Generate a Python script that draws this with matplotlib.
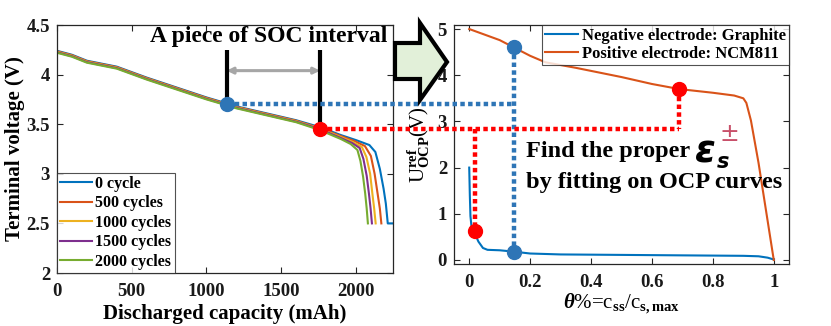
import matplotlib
matplotlib.use("Agg")
import matplotlib.pyplot as plt
import numpy as np
from matplotlib.lines import Line2D
from matplotlib.patches import Polygon

plt.rcParams['font.family'] = ['Liberation Serif', 'DejaVu Serif']
plt.rcParams['font.weight'] = 'bold'
plt.rcParams['mathtext.fontset'] = 'custom'
plt.rcParams['mathtext.rm'] = 'Liberation Serif:bold'
plt.rcParams['mathtext.bf'] = 'Liberation Serif:bold'
plt.rcParams['mathtext.it'] = 'Liberation Serif:italic:bold'

# ---------------- data ----------------
cycle_labels = ["0 cycle", "500 cycles", "1000 cycles", "1500 cycles", "2000 cycles"]
cycle_colors = ["#0072BD", "#D95319", "#EDB120", "#7E2F8E", "#77AC30"]

cap_0 = [0, 100, 200, 400, 600, 800, 1000, 1135, 1200, 1400, 1600, 1760, 1900, 2000, 2090, 2130, 2160, 2185, 2200, 2213, 2245]
v_0 = [4.24, 4.20, 4.14, 4.08, 3.97, 3.87, 3.77, 3.71, 3.68, 3.61, 3.54, 3.47, 3.39, 3.34, 3.29, 3.22, 3.05, 2.85, 2.70, 2.50, 2.50]
cap_500 = [0, 100, 200, 400, 600, 800, 1000, 1135, 1200, 1400, 1600, 1760, 1900, 1990, 2060, 2100, 2125, 2145, 2160, 2170]
v_500 = [4.235, 4.195, 4.135, 4.075, 3.965, 3.865, 3.765, 3.705, 3.675, 3.605, 3.535, 3.46, 3.38, 3.33, 3.28, 3.18, 3.00, 2.80, 2.65, 2.50]
cap_1000 = [0, 100, 200, 400, 600, 800, 1000, 1135, 1200, 1400, 1600, 1760, 1900, 1980, 2040, 2070, 2095, 2110, 2122, 2132]
v_1000 = [4.23, 4.19, 4.13, 4.07, 3.96, 3.86, 3.76, 3.70, 3.67, 3.60, 3.53, 3.455, 3.37, 3.32, 3.27, 3.17, 3.00, 2.80, 2.65, 2.50]
cap_1500 = [0, 100, 200, 400, 600, 800, 1000, 1135, 1200, 1400, 1600, 1760, 1900, 1975, 2025, 2050, 2072, 2087, 2098, 2107]
v_1500 = [4.225, 4.185, 4.125, 4.065, 3.955, 3.855, 3.755, 3.695, 3.665, 3.595, 3.525, 3.45, 3.36, 3.31, 3.26, 3.15, 2.98, 2.80, 2.65, 2.50]
cap_2000 = [0, 100, 200, 400, 600, 800, 1000, 1135, 1200, 1400, 1600, 1760, 1900, 1965, 2010, 2030, 2048, 2062, 2072, 2080]
v_2000 = [4.22, 4.18, 4.12, 4.06, 3.95, 3.85, 3.75, 3.69, 3.66, 3.59, 3.52, 3.44, 3.35, 3.30, 3.24, 3.13, 2.97, 2.80, 2.65, 2.50]
caps = [cap_0, cap_500, cap_1000, cap_1500, cap_2000]
volts = [v_0, v_500, v_1000, v_1500, v_2000]

theta_neg = [0.0, 0.002, 0.004, 0.007, 0.012, 0.02, 0.03, 0.045, 0.06, 0.1, 0.147, 0.2, 0.3, 0.5, 0.7, 0.9, 0.95, 0.98, 1.0]
u_neg = [2.0, 1.4, 0.95, 0.75, 0.68, 0.55, 0.40, 0.26, 0.22, 0.21, 0.18, 0.14, 0.12, 0.11, 0.10, 0.09, 0.08, 0.05, 0.01]
theta_pos = [0.0, 0.1, 0.147, 0.2, 0.25, 0.35, 0.5, 0.6, 0.69, 0.8, 0.87, 0.9, 0.91, 0.925, 0.95, 0.975, 1.0]
u_pos = [5.0, 4.76, 4.60, 4.42, 4.28, 4.16, 3.96, 3.81, 3.70, 3.62, 3.56, 3.50, 3.40, 3.02, 2.10, 1.05, 0.0]

# highlighted points
soc_cap = [1135, 1760]          # blue, red on discharge curve
soc_v = [3.70, 3.45]
pt_colors = ["#2E75B6", "#FF0000"]
neg_pts = [(0.147, 0.18), (0.018, 0.62)]   # blue, red on graphite
pos_pts = [(0.147, 4.60), (0.69, 3.70)]    # blue, red on NCM811
bar_top = 4.25
arrow_y = 4.04

# ---------------- figure ----------------
fig = plt.figure(figsize=(8.31, 3.26), dpi=100)
ax1 = fig.add_axes([57/831, (326-273)/326, 336/831, 248/326])
ax2 = fig.add_axes([454/831, (326-264)/326, 335/831, 239/326])

edge = "#262626"
for ax in (ax1, ax2):
    for s in ax.spines.values():
        s.set_color(edge)
        s.set_linewidth(0.9)
    ax.tick_params(direction='in', top=True, right=True, length=4, width=0.8,
                   colors=edge, labelcolor='#1a1a1a', labelsize=13.5)
    ax.tick_params(axis='x', pad=7)
    ax.tick_params(axis='y', pad=5)

# left panel
for c, v, lab, col in zip(caps, volts, cycle_labels, cycle_colors):
    ax1.plot(c, v, color=col, lw=1.5, label=lab)
ax1.set_xlim(0, 2248)
ax1.set_ylim(2, 4.5)
ax1.set_xticks([0, 500, 1000, 1500, 2000])
ax1.set_yticks([2, 2.5, 3, 3.5, 4, 4.5])
ax1.set_yticklabels(["2", "2.5", "3", "3.5", "4", "4.5"], fontweight='bold')
ax1.set_xticklabels(["0", "500", "1000", "1500", "2000"], fontweight='bold')
ax1.set_xlabel("Discharged capacity (mAh)", fontsize=15, fontweight='bold', labelpad=3)
ax1.set_ylabel("Terminal voltage (V)", fontsize=15, fontweight='bold', labelpad=1)
leg1 = ax1.legend(loc='lower left', frameon=True, fancybox=False, edgecolor=edge,
                  prop={'weight': 'bold', 'size': 11.5}, handlelength=2.0,
                  handletextpad=0.2, borderpad=0.2, labelspacing=0.22, borderaxespad=0.0)
leg1.get_frame().set_linewidth(0.8)

for x, y in zip(soc_cap, soc_v):
    ax1.plot([x, x], [y, bar_top], color='black', lw=3, solid_capstyle='butt', zorder=4)
ax1.annotate("", xy=(soc_cap[0], arrow_y), xytext=(soc_cap[1], arrow_y),
             arrowprops=dict(arrowstyle='<|-|>', color='#A6A6A6', lw=2.2,
                             mutation_scale=9, shrinkA=0, shrinkB=0))
ax1.text(1417, 4.38, "A piece of SOC interval", ha='center', va='center',
         fontsize=17, fontweight='bold')

# right panel
ax2.plot(theta_neg, u_neg, color="#0072BD", lw=1.5, label="Negative electrode: Graphite")
ax2.plot(theta_pos, u_pos, color="#D95319", lw=1.5, label="Positive electrode: NCM811")
ax2.set_xlim(-0.05, 1.05)
ax2.set_ylim(-0.087, 5.087)
ax2.set_xticks([0, 0.2, 0.4, 0.6, 0.8, 1])
ax2.set_xticklabels(["0", "0.2", "0.4", "0.6", "0.8", "1"], fontweight='bold')
ax2.set_yticks([0, 1, 2, 3, 4, 5])
ax2.set_yticklabels(["0", "1", "2", "3", "4", "5"], fontweight='bold')
ax2.set_xlabel(r"$\mathit{\theta}$%=c$_{\mathbf{ss}}$/c$_{\mathbf{s,max}}$", fontsize=15, labelpad=1)
ax2.set_ylabel(r"U$_{\mathbf{OCP}}^{\mathbf{ref}}$(V)", fontsize=15, labelpad=4)
leg2 = ax2.legend(loc='upper right', frameon=True, fancybox=False, edgecolor=edge,
                  prop={'weight': 'bold', 'size': 12}, handlelength=2.0,
                  handletextpad=0.2, borderpad=0.2, labelspacing=0.1, borderaxespad=0.0)
leg2.get_frame().set_linewidth(0.8)

ax2.text(0.188, 2.34, "Find the proper", ha='left', va='center', fontsize=17.5, fontweight='bold')
ax2.text(0.188, 1.67, "by fitting on OCP curves", ha='left', va='center', fontsize=17.5, fontweight='bold')
ax2.text(0.742, 2.32, "ε", ha='left', va='center', fontsize=27, family='DejaVu Sans',
         fontweight='bold', style='oblique')
ax2.text(0.812, 2.12, "s", ha='left', va='center', fontsize=15, family='DejaVu Sans',
         fontweight='bold', style='oblique')
ax2.text(0.822, 2.72, "±", ha='left', va='center', fontsize=17, family='DejaVu Sans',
         fontweight='normal', color='#C8506A')

fig.canvas.draw()

def disp(ax, x, y):
    return ax.transData.transform((x, y))

def fig_line(p0, p1, color):
    inv = fig.transFigure.inverted()
    a = inv.transform(p0)
    b = inv.transform(p1)
    fig.add_artist(Line2D([a[0], b[0]], [a[1], b[1]], color=color, lw=3.2,
                          linestyle=(0, (1.0, 0.75)), zorder=5))

blue, red = pt_colors
# blue path
pb = disp(ax1, soc_cap[0], soc_v[0])
xb = disp(ax2, pos_pts[0][0], 0)[0]
fig_line(pb, (xb, pb[1]), blue)
fig_line(disp(ax2, *pos_pts[0]), disp(ax2, *neg_pts[0]), blue)
# red path
pr = disp(ax1, soc_cap[1], soc_v[1])
xr = disp(ax2, pos_pts[1][0], 0)[0]
fig_line(pr, (xr, pr[1]), red)
fig_line(disp(ax2, *pos_pts[1]), (xr, pr[1]), red)
xr2 = disp(ax2, neg_pts[1][0], 0)[0]
fig_line((xr2, pr[1]), disp(ax2, *neg_pts[1]), red)

# markers
ax1.plot(soc_cap[0], soc_v[0], 'o', color=blue, ms=10, zorder=6, clip_on=False)
ax1.plot(soc_cap[1], soc_v[1], 'o', color=red, ms=10, zorder=6, clip_on=False)
ax2.plot(*pos_pts[0], 'o', color=blue, ms=10, zorder=6)
ax2.plot(*neg_pts[0], 'o', color=blue, ms=10, zorder=6)
ax2.plot(*pos_pts[1], 'o', color=red, ms=10, zorder=6)
ax2.plot(*neg_pts[1], 'o', color=red, ms=10, zorder=6)

# big block arrow between panels (pixel coordinates -> figure fraction)
arrow_px = [(395, 43), (420, 43), (420, 23), (447, 62), (420, 100), (420, 79), (395, 79)]
arrow_fig = [(x/831, 1 - y/326) for x, y in arrow_px]
fig.add_artist(Polygon(arrow_fig, closed=True, facecolor='#E2F0D9', edgecolor='black',
                       lw=3, joinstyle='miter', transform=fig.transFigure, zorder=7))

fig.savefig("out.png", dpi=100)
